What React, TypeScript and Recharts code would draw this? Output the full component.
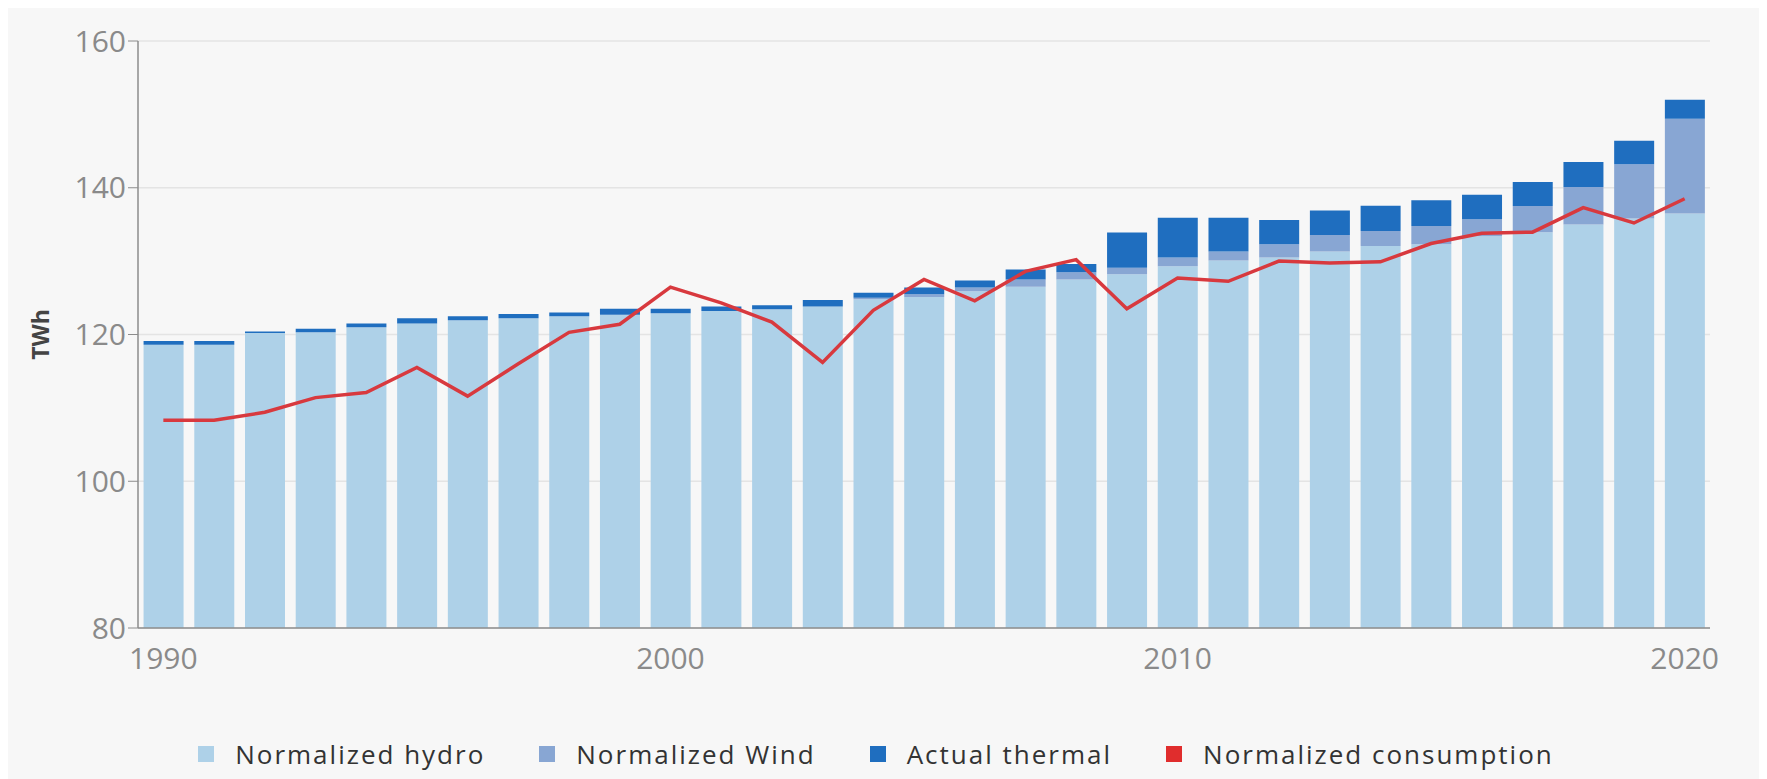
import {
  Bar,
  CartesianGrid,
  ComposedChart,
  Legend,
  Line,
  XAxis,
  YAxis,
} from 'recharts'

// Years on the category axis
const YEARS = [
  1990, 1991, 1992, 1993, 1994, 1995, 1996, 1997, 1998, 1999, 2000, 2001, 2002, 2003, 2004, 2005,
  2006, 2007, 2008, 2009, 2010, 2011, 2012, 2013, 2014, 2015, 2016, 2017, 2018, 2019, 2020,
]

// TWh
const HYDRO = [
  118.6, 118.6, 120.2, 120.3, 121.0, 121.5, 121.95, 122.2, 122.5, 122.7, 122.9, 123.2, 123.45,
  123.8, 124.8, 125.1, 125.9, 126.5, 127.5, 128.2, 129.3, 130.1, 130.5, 131.3, 132.05, 132.3,
  133.4, 133.95, 135.0, 135.8, 136.5,
]
const WIND = [
  0, 0, 0, 0, 0, 0, 0, 0, 0, 0, 0, 0, 0, 0, 0.2, 0.4, 0.5, 1.0, 1.0, 0.9, 1.2, 1.2, 1.8, 2.25,
  2.05, 2.5, 2.3, 3.55, 5.1, 7.4, 12.9,
]
const THERMAL = [
  0.5, 0.5, 0.2, 0.5, 0.5, 0.7, 0.55, 0.6, 0.5, 0.8, 0.6, 0.6, 0.55, 0.9, 0.7, 0.9, 0.95, 1.35,
  1.1, 4.8, 5.4, 4.6, 3.3, 3.35, 3.45, 3.5, 3.35, 3.3, 3.4, 3.2, 2.6,
]
const CONSUMPTION = [
  108.3, 108.3, 109.4, 111.4, 112.1, 115.5, 111.6, 116.0, 120.3, 121.4, 126.45, 124.3, 121.7,
  116.2, 123.3, 127.5, 124.6, 128.6, 130.2, 123.5, 127.7, 127.25, 130.0, 129.75, 129.9, 132.4,
  133.8, 133.95, 137.3, 135.2, 138.5,
]

const Y_TICKS = [80, 100, 120, 140, 160]

const SERIES = [
  { key: 'hydro', name: 'Normalized hydro', color: '#aed1e8' },
  { key: 'wind', name: 'Normalized Wind', color: '#88a6d3' },
  { key: 'thermal', name: 'Actual thermal', color: '#1f6ebf' },
  { key: 'consumption', name: 'Normalized consumption', color: '#e02d2d' },
]

const data = YEARS.map((year, i) => ({
  year,
  hydro: HYDRO[i],
  wind: WIND[i],
  thermal: THERMAL[i],
  consumption: CONSUMPTION[i],
}))

const AXIS_TICK = { fill: '#8a8a8a', fontSize: 30 } as const

function LegendRow() {
  return (
    <div
      style={{
        height: 50,
        display: 'flex',
        justifyContent: 'center',
        alignItems: 'center',
        paddingLeft: 34,
        boxSizing: 'border-box',
        fontSize: 26,
        letterSpacing: 2,
        color: '#333',
      }}
    >
      {SERIES.map((s, i) => (
        <div
          key={s.key}
          style={{ display: 'flex', alignItems: 'center', marginLeft: i === 0 ? 0 : 54 }}
        >
          <span
            style={{ width: 16, height: 16, background: s.color, display: 'inline-block', marginRight: 21 }}
          />
          <span>{s.name}</span>
        </div>
      ))}
    </div>
  )
}

function YTitle(props: { viewBox?: { x: number; y: number; width: number; height: number } }) {
  const vb = props.viewBox ?? { x: 0, y: 0, width: 0, height: 0 }
  const cx = 32
  const cy = vb.y + vb.height / 2
  return (
    <text
      x={cx}
      y={cy}
      transform={`rotate(-90, ${cx}, ${cy})`}
      textAnchor="middle"
      dominantBaseline="central"
      fontSize={23}
      fontWeight="bold"
      fill="#444"
    >
      TWh
    </text>
  )
}

export default function App() {
  return (
    <div style={{ width: 1759, height: 771, background: '#f7f7f7', fontFamily: '"Open Sans", sans-serif' }}>
      <ComposedChart
        width={1759}
        height={771}
        data={data}
        margin={{ top: 33, right: 57, bottom: 0, left: 0 }}
        barCategoryGap="11%"
      >
        <CartesianGrid stroke="#e4e4e4" strokeWidth={1.5} vertical={false} />
        <XAxis
          dataKey="year"
          interval={9}
          height={101}
          tick={AXIS_TICK}
          tickLine={false}
          tickSize={10}
          tickMargin={10}
          axisLine={{ stroke: '#8c8c8c', strokeWidth: 1.5 }}
        />
        <YAxis
          type="number"
          domain={[80, 160]}
          ticks={Y_TICKS}
          allowDataOverflow
          width={130}
          tick={AXIS_TICK}
          tickSize={10}
          tickMargin={2}
          tickLine={{ stroke: '#8c8c8c' }}
          axisLine={{ stroke: '#8c8c8c', strokeWidth: 1.5 }}
          label={<YTitle />}
        />
        <Legend verticalAlign="bottom" height={50} content={() => <LegendRow />} />
        <Bar dataKey="hydro" name="Normalized hydro" stackId="a" fill="#aed1e8" isAnimationActive={false} />
        <Bar dataKey="wind" name="Normalized Wind" stackId="a" fill="#88a6d3" isAnimationActive={false} />
        <Bar dataKey="thermal" name="Actual thermal" stackId="a" fill="#1f6ebf" isAnimationActive={false} />
        <Line
          type="linear"
          dataKey="consumption"
          name="Normalized consumption"
          stroke="#d8393e"
          strokeWidth={3.5}
          dot={false}
          isAnimationActive={false}
        />
      </ComposedChart>
    </div>
  )
}
